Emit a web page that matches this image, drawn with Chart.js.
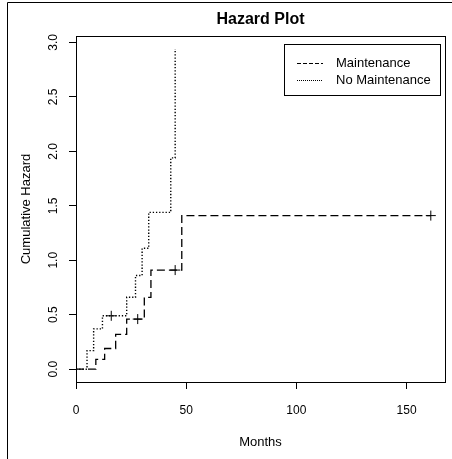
<!DOCTYPE html>
<html>
<head>
<meta charset="utf-8">
<script src="https://cdn.jsdelivr.net/npm/chart.js@4/dist/chart.umd.min.js"></script>
<style>
  html, body { margin: 0; padding: 0; background: #fff; }
  #wrap { width: 452px; height: 459px; }
</style>
</head>
<body>
<div id="wrap"><canvas id="hazardChart" width="452" height="459"></canvas></div>
<script>
// Cumulative hazard step curves
const maintTimes = [0, 9, 13, 18, 23, 31, 34, 48, 161];
const maintHazard = [0, 0.09, 0.19, 0.32, 0.46, 0.66, 0.91, 1.41, 1.41];
const noMaintTimes = [0, 5, 8, 12, 23, 27, 30, 33, 43, 45];
const noMaintHazard = [0, 0.17, 0.37, 0.49, 0.66, 0.86, 1.11, 1.44, 1.94, 2.94];

// censoring marks (+)
const censorTimes = [16, 28, 45, 161];
const censorHazard = [0.49, 0.46, 0.91, 1.41];

const xTicks = [0, 50, 100, 150];
const yTicks = [0, 0.5, 1, 1.5, 2, 2.5, 3];
const seriesNames = ['Maintenance', 'No Maintenance'];

const FONT = 'Liberation Sans, Arial, Helvetica, sans-serif';

function toPoints(xs, ys) {
    return xs.map((x, i) => ({ x: x, y: ys[i] }));
}

// box around the plot, outer frame, title and legend drawn R-style
const rStylePlugin = {
    id: 'rStyle',
    beforeDraw(chart) {
        const ctx = chart.ctx;
        ctx.save();
        ctx.strokeStyle = '#000';
        ctx.lineWidth = 1;
        ctx.beginPath();
        ctx.moveTo(7.5, chart.height);
        ctx.lineTo(7.5, 2.5);
        ctx.lineTo(chart.width, 2.5);
        ctx.stroke();
        ctx.restore();
    },
    afterDraw(chart) {
        const ctx = chart.ctx;
        const area = chart.chartArea;
        ctx.save();
        ctx.strokeStyle = '#000';
        ctx.lineWidth = 1;
        ctx.strokeRect(Math.round(area.left) + 0.5, Math.round(area.top) + 0.5,
            Math.round(area.right - area.left), Math.round(area.bottom - area.top));

        // title
        ctx.fillStyle = '#000';
        ctx.font = 'bold 16px ' + FONT;
        ctx.textAlign = 'center';
        ctx.textBaseline = 'middle';
        ctx.fillText('Hazard Plot', (area.left + area.right) / 2, 20);

        // legend
        const lx = 284.5, ly = 44.5, lw = 156, lh = 51;
        ctx.strokeRect(lx, ly, lw, lh);
        const dashes = [[4, 2], [1, 1]];
        const rows = [63.5, 80.5];
        ctx.font = '13px ' + FONT;
        ctx.textAlign = 'left';
        seriesNames.forEach((name, i) => {
            ctx.setLineDash(dashes[i]);
            ctx.beginPath();
            ctx.moveTo(297, rows[i]);
            ctx.lineTo(323, rows[i]);
            ctx.stroke();
            ctx.setLineDash([]);
            ctx.fillText(name, 336, rows[i]);
        });
        ctx.restore();
    }
};

const ctx = document.getElementById('hazardChart').getContext('2d');
const hazardChart = new Chart(ctx, {
    type: 'line',
    data: {
        datasets: [
            {
                label: seriesNames[0],
                data: toPoints(maintTimes, maintHazard),
                stepped: 'before',
                borderColor: '#000',
                borderWidth: 1.3,
                borderDash: [8, 4],
                pointRadius: 0,
                fill: false,
            },
            {
                label: seriesNames[1],
                data: toPoints(noMaintTimes, noMaintHazard),
                stepped: 'before',
                borderColor: '#000',
                borderWidth: 1.4,
                borderDash: [1.3, 1.9],
                pointRadius: 0,
                fill: false,
            },
            {
                label: 'censored',
                data: toPoints(censorTimes, censorHazard),
                showLine: false,
                pointStyle: 'cross',
                pointRadius: 5,
                borderColor: '#000',
                borderWidth: 1,
            },
        ],
    },
    options: {
        responsive: false,
        animation: false,
        layout: {
            padding: { top: 36, right: 7, bottom: 0, left: 0 },
        },
        plugins: {
            legend: { display: false },
            tooltip: { enabled: false },
            title: { display: false },
        },
        scales: {
            x: {
                type: 'linear',
                min: 0,
                max: 167.44,
                afterBuildTicks(scale) {
                    scale.ticks = xTicks.map(v => ({ value: v }));
                },
                afterFit(scale) {
                    scale.height = 77;
                },
                grid: {
                    drawOnChartArea: false,
                    drawTicks: true,
                    tickLength: 7,
                    color: '#000',
                },
                border: { display: true, color: '#000' },
                ticks: {
                    color: '#000',
                    padding: 14,
                    maxRotation: 0,
                    font: { family: FONT, size: 12 },
                    callback: v => String(v),
                },
                title: {
                    display: true,
                    text: 'Months',
                    color: '#000',
                    font: { family: FONT, size: 13 },
                    padding: { top: 0, bottom: 9 },
                },
            },
            y: {
                type: 'linear',
                min: -0.1177,
                max: 3.059,
                afterBuildTicks(scale) {
                    scale.ticks = yTicks.map(v => ({ value: v }));
                },
                afterFit(scale) {
                    scale.width = 76;
                },
                grid: {
                    drawOnChartArea: false,
                    drawTicks: true,
                    tickLength: 7,
                    color: '#000',
                },
                border: { display: true, color: '#000' },
                ticks: {
                    color: '#000',
                    padding: 7,
                    minRotation: 90,
                    maxRotation: 90,
                    crossAlign: 'center',
                    font: { family: FONT, size: 12 },
                    callback: v => v.toFixed(1),
                },
                title: {
                    display: true,
                    text: 'Cumulative Hazard',
                    color: '#000',
                    font: { family: FONT, size: 13 },
                    padding: { top: 19, bottom: 0 },
                },
            },
        },
    },
    plugins: [rStylePlugin],
});
</script>
</body>
</html>
